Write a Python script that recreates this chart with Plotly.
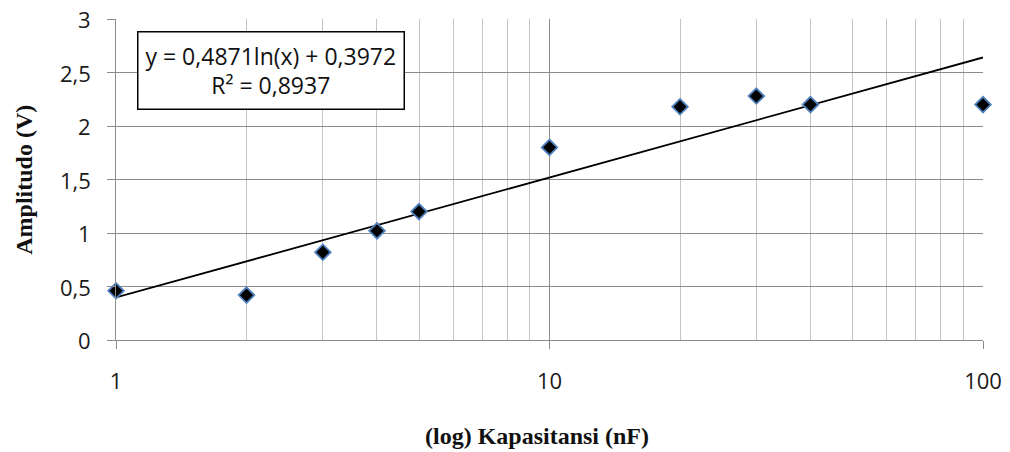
import numpy as np
import plotly.graph_objects as go

# Data
kapasitansi = [1, 2, 3, 4, 5, 10, 20, 30, 40, 100]
amplitudo = [0.46, 0.42, 0.82, 1.02, 1.20, 1.80, 2.18, 2.28, 2.20, 2.20]

# Trendline coefficients (as displayed)
coef_a = 0.4871
coef_b = 0.3972
r_squared = 0.8937
trend_x = [1, 100]
trend_y = [coef_a * np.log(v) + coef_b for v in trend_x]

major_ticks = [1, 10, 100]
minor_ticks = [2, 3, 4, 5, 6, 7, 8, 9, 20, 30, 40, 50, 60, 70, 80, 90]
y_ticks = [0, 0.5, 1, 1.5, 2, 2.5, 3]
y_ticktext = ["0", "0,5", "1", "1,5", "2", "2,5", "3"]

sans = "Open Sans, Noto Sans, sans-serif"
serif = "Liberation Serif, Times New Roman, serif"
tick_font = dict(family=sans, size=22, color="#1a1a1a")
title_font = dict(family=serif, size=24, color="#111")

fig = go.Figure()
fig.add_trace(go.Scatter(
    x=trend_x, y=trend_y, mode="lines",
    line=dict(color="black", width=1.8), hoverinfo="skip", showlegend=False,
))
fig.add_trace(go.Scatter(
    x=kapasitansi, y=amplitudo, mode="markers",
    marker=dict(symbol="diamond", size=12, color="black",
                line=dict(color="#4F81BD", width=1.8)),
    cliponaxis=False, showlegend=False,
))

fig.update_layout(
    width=1010, height=452,
    margin=dict(l=116, r=27, t=19, b=112),
    paper_bgcolor="white", plot_bgcolor="white",
    separators=", ",
    xaxis=dict(
        type="log", range=[0, 2], automargin=False,
        tickmode="array", tickvals=major_ticks, ticktext=[str(v) for v in major_ticks],
        showgrid=True, gridcolor="#8c8c8c", gridwidth=1,
        minor=dict(tickmode="array", tickvals=minor_ticks, showgrid=True,
                   gridcolor="#c4c4c4", gridwidth=1, ticks=""),
        ticks="outside", ticklen=8, tickcolor="#8c8c8c",
        ticklabelstandoff=13,
        showline=True, linecolor="#8c8c8c", linewidth=1.2,
        zeroline=False, tickfont=tick_font,
    ),
    yaxis=dict(
        range=[0, 3], automargin=False,
        tickmode="array", tickvals=y_ticks, showticklabels=False,
        showgrid=True, gridcolor="#8c8c8c", gridwidth=1,
        ticks="outside", ticklen=8, tickcolor="#8c8c8c",
        showline=True, linecolor="#8c8c8c", linewidth=1.2,
        zeroline=False,
    ),
)

# Y tick labels (placed further from the axis, as in the reference)
for val, txt in zip(y_ticks, y_ticktext):
    fig.add_annotation(
        xref="paper", yref="y", x=-0.0265, y=val,
        xanchor="right", yanchor="middle", showarrow=False,
        text=txt, font=tick_font,
    )

# Axis titles
fig.add_annotation(
    xref="paper", yref="paper", x=0.486, y=-0.299,
    xanchor="center", yanchor="middle", showarrow=False,
    text="<b>(log) Kapasitansi (nF)</b>", font=title_font,
)
fig.add_annotation(
    xref="paper", yref="paper", x=-0.107, y=0.5,
    xanchor="center", yanchor="middle", showarrow=False, textangle=-90,
    text="<b>Amplitudo (V)</b>", font=title_font,
)

# Trendline equation box
eq_text = (f"y = {coef_a:.4f}ln(x) + {coef_b:.4f}".replace(".", ",")
           + "<br>" + f"R² = {r_squared:.4f}".replace(".", ","))
fig.add_annotation(
    xref="paper", yref="paper", x=0.179, y=0.84,
    xanchor="center", yanchor="middle",
    text=eq_text, showarrow=False, align="center",
    font=dict(family=sans, size=23, color="#111"),
    bgcolor="white", bordercolor="black", borderwidth=1.5, borderpad=7,
)

fig.write_html(
    "out.html",
    config={"displayModeBar": False},
    post_script="document.body.style.margin='0';document.body.style.overflow='hidden';",
)
